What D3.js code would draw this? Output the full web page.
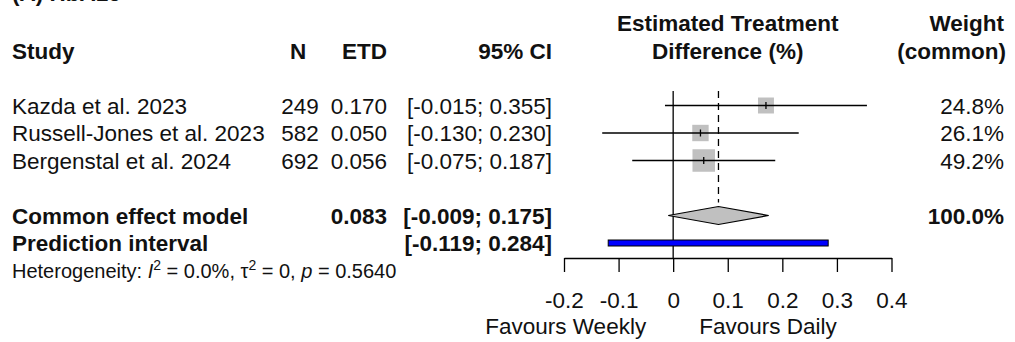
<!DOCTYPE html>
<html>
<head>
<meta charset="utf-8">
<script src="https://cdn.jsdelivr.net/npm/d3@7"></script>
<style>
  body { margin: 0; background: #fff; }
  svg text { font-family: "Liberation Sans", Arial, sans-serif; fill: #111; }
</style>
</head>
<body>
<svg id="chart" width="1015" height="342"></svg>
<script>
// study level data
let studies = ["Kazda et al. 2023", "Russell-Jones et al. 2023", "Bergenstal et al. 2024"];
let n_values = [249, 582, 692];
let etd = [0.170, 0.050, 0.056];
let ci_lower = [-0.015, -0.130, -0.075];
let ci_upper = [0.355, 0.230, 0.187];
let weights = [24.8, 26.1, 49.2];

// pooled estimate + prediction interval
let common_est = 0.083;
let common_ci = [-0.009, 0.175];
let common_weight = 100.0;
let pred_interval = [-0.119, 0.284];

let axis_ticks = [-0.2, -0.1, 0, 0.1, 0.2, 0.3, 0.4];
let het_text = {i2: "0.0%", tau2: "0", p: "0.5640"};

let svg = d3.select('#chart');
let font_size = 22.5;
let row_h = 27.5;
let first_row = 105.5;
let row_y = i => first_row + i * row_h;
let base = i => row_y(i) + 8;   // text baseline for row i

let col_study = 12, col_n = 300, col_etd = 387, col_ci = 552, col_w = 1004;

let x = d3.scaleLinear().domain([-0.2, 0.4]).range([564, 891.5]);
let sq = d3.scaleSqrt().domain([0, d3.max(weights)]).range([0, 22.5]);

// plain hyphen minus like R does, not the unicode one d3.format gives
let fmt3 = v => (+v).toFixed(3);
let ci_str = (lo, hi) => '[' + fmt3(lo) + '; ' + fmt3(hi) + ']';
let txt = (t, xx, yy, anchor, bold, size) => svg.append('text')
  .attr('x', xx).attr('y', yy)
  .attr('text-anchor', anchor || 'start')
  .attr('font-weight', bold ? 'bold' : 'normal')
  .attr('font-size', size || font_size)
  .text(t);

// cut off panel title at the very top
txt('(A) HbA1c', 12, 0.5, 'start', true);

// headers
txt('Estimated Treatment', x(0.1), base(-3), 'middle', true);
txt('Weight', col_w, base(-3), 'end', true);
txt('Study', col_study, base(-2), 'start', true);
txt('N', col_n - 2, base(-2), 'middle', true);
txt('ETD', col_etd, base(-2), 'end', true);
txt('95% CI', col_ci, base(-2), 'end', true);
txt('Difference (%)', x(0.1), base(-2), 'middle', true);
txt('(common)', col_w + 2, base(-2), 'end', true);

// study rows
studies.forEach((s, i) => {
  txt(s, col_study, base(i), 'start');
  txt(n_values[i], col_n, base(i), 'middle');
  txt(fmt3(etd[i]), col_etd, base(i), 'end');
  txt(ci_str(ci_lower[i], ci_upper[i]), col_ci, base(i), 'end');
  txt(weights[i].toFixed(1) + '%', col_w, base(i), 'end');
});

// pooled rows
txt('Common effect model', col_study, base(4), 'start', true);
txt(fmt3(common_est), col_etd, base(4), 'end', true);
txt(ci_str(common_ci[0], common_ci[1]), col_ci, base(4), 'end', true);
txt(common_weight.toFixed(1) + '%', col_w, base(4), 'end', true);
txt('Prediction interval', col_study, base(5), 'start', true);
txt(ci_str(pred_interval[0], pred_interval[1]), col_ci, base(5), 'end', true);

// heterogeneity line, a bit smaller
let het = svg.append('text').attr('x', col_study).attr('y', base(6) - 1).attr('font-size', 20);
het.append('tspan').text('Heterogeneity: ');
het.append('tspan').attr('font-style', 'italic').text('I');
het.append('tspan').attr('font-size', 14).attr('dy', -8).text('2');
het.append('tspan').attr('dy', 8).text(' = ' + het_text.i2 + ', \u03c4');
het.append('tspan').attr('font-size', 14).attr('dy', -8).text('2');
het.append('tspan').attr('dy', 8).text(' = ' + het_text.tau2 + ', ');
het.append('tspan').attr('font-style', 'italic').text('p');
het.append('tspan').text(' = ' + het_text.p);

// reference lines
let axis_y = row_y(5) + 15;
let plot = svg.append('g');
plot.append('line')
  .attr('x1', x(0)).attr('x2', x(0))
  .attr('y1', row_y(0) - 14.5).attr('y2', axis_y)
  .attr('stroke', '#000').attr('stroke-width', 1.3);
plot.append('line')
  .attr('x1', x(common_est)).attr('x2', x(common_est))
  .attr('y1', row_y(0) - 14.5).attr('y2', row_y(4) - 13)
  .attr('stroke', '#000').attr('stroke-width', 1.3)
  .attr('stroke-dasharray', '7,5');

// study CIs + squares
let rows = plot.selectAll('.study').data(studies).enter().append('g').attr('class', 'study');
rows.append('rect')
  .attr('x', (d, i) => x(etd[i]) - sq(weights[i]) / 2)
  .attr('y', (d, i) => row_y(i) - sq(weights[i]) / 2)
  .attr('width', (d, i) => sq(weights[i]))
  .attr('height', (d, i) => sq(weights[i]))
  .attr('fill', '#c0c0c0');
rows.append('line')
  .attr('x1', (d, i) => x(ci_lower[i])).attr('x2', (d, i) => x(ci_upper[i]))
  .attr('y1', (d, i) => row_y(i)).attr('y2', (d, i) => row_y(i))
  .attr('stroke', '#000').attr('stroke-width', 1.3);
rows.append('line')
  .attr('x1', (d, i) => x(etd[i])).attr('x2', (d, i) => x(etd[i]))
  .attr('y1', (d, i) => row_y(i) - 3.5).attr('y2', (d, i) => row_y(i) + 3.5)
  .attr('stroke', '#000').attr('stroke-width', 1.3);

// common effect diamond
let cy = row_y(4);
let diamond = [[x(common_ci[0]), cy], [x(common_est), cy - 9], [x(common_ci[1]), cy], [x(common_est), cy + 9]];
plot.append('path')
  .attr('d', d3.line()(diamond) + 'Z')
  .attr('fill', '#c0c0c0').attr('stroke', '#000').attr('stroke-width', 1.2);

// prediction interval bar
plot.append('rect')
  .attr('x', x(pred_interval[0])).attr('y', row_y(5) - 3)
  .attr('width', x(pred_interval[1]) - x(pred_interval[0])).attr('height', 6)
  .attr('fill', '#0000ff').attr('stroke', '#000').attr('stroke-width', 1);

// x axis
let ax = svg.append('g').attr('transform', 'translate(0,' + axis_y + ')')
  .call(d3.axisBottom(x).tickValues(axis_ticks).tickSize(14).tickSizeOuter(0)
    .tickFormat(d => d === 0 ? '0' : d.toFixed(1)));
ax.select('.domain').attr('stroke', '#000').attr('stroke-width', 1.3);
ax.selectAll('.tick line').attr('stroke', '#000').attr('stroke-width', 1.3);
ax.selectAll('.tick text')
  .attr('font-family', '"Liberation Sans", Arial, sans-serif')
  .attr('font-size', font_size).attr('fill', '#111')
  .attr('dy', 0).attr('y', 49.5);

txt('Favours Weekly', x(0) - 27, 334, 'end');
txt('Favours Daily', x(0) + 26, 334, 'start');
</script>
</body>
</html>
